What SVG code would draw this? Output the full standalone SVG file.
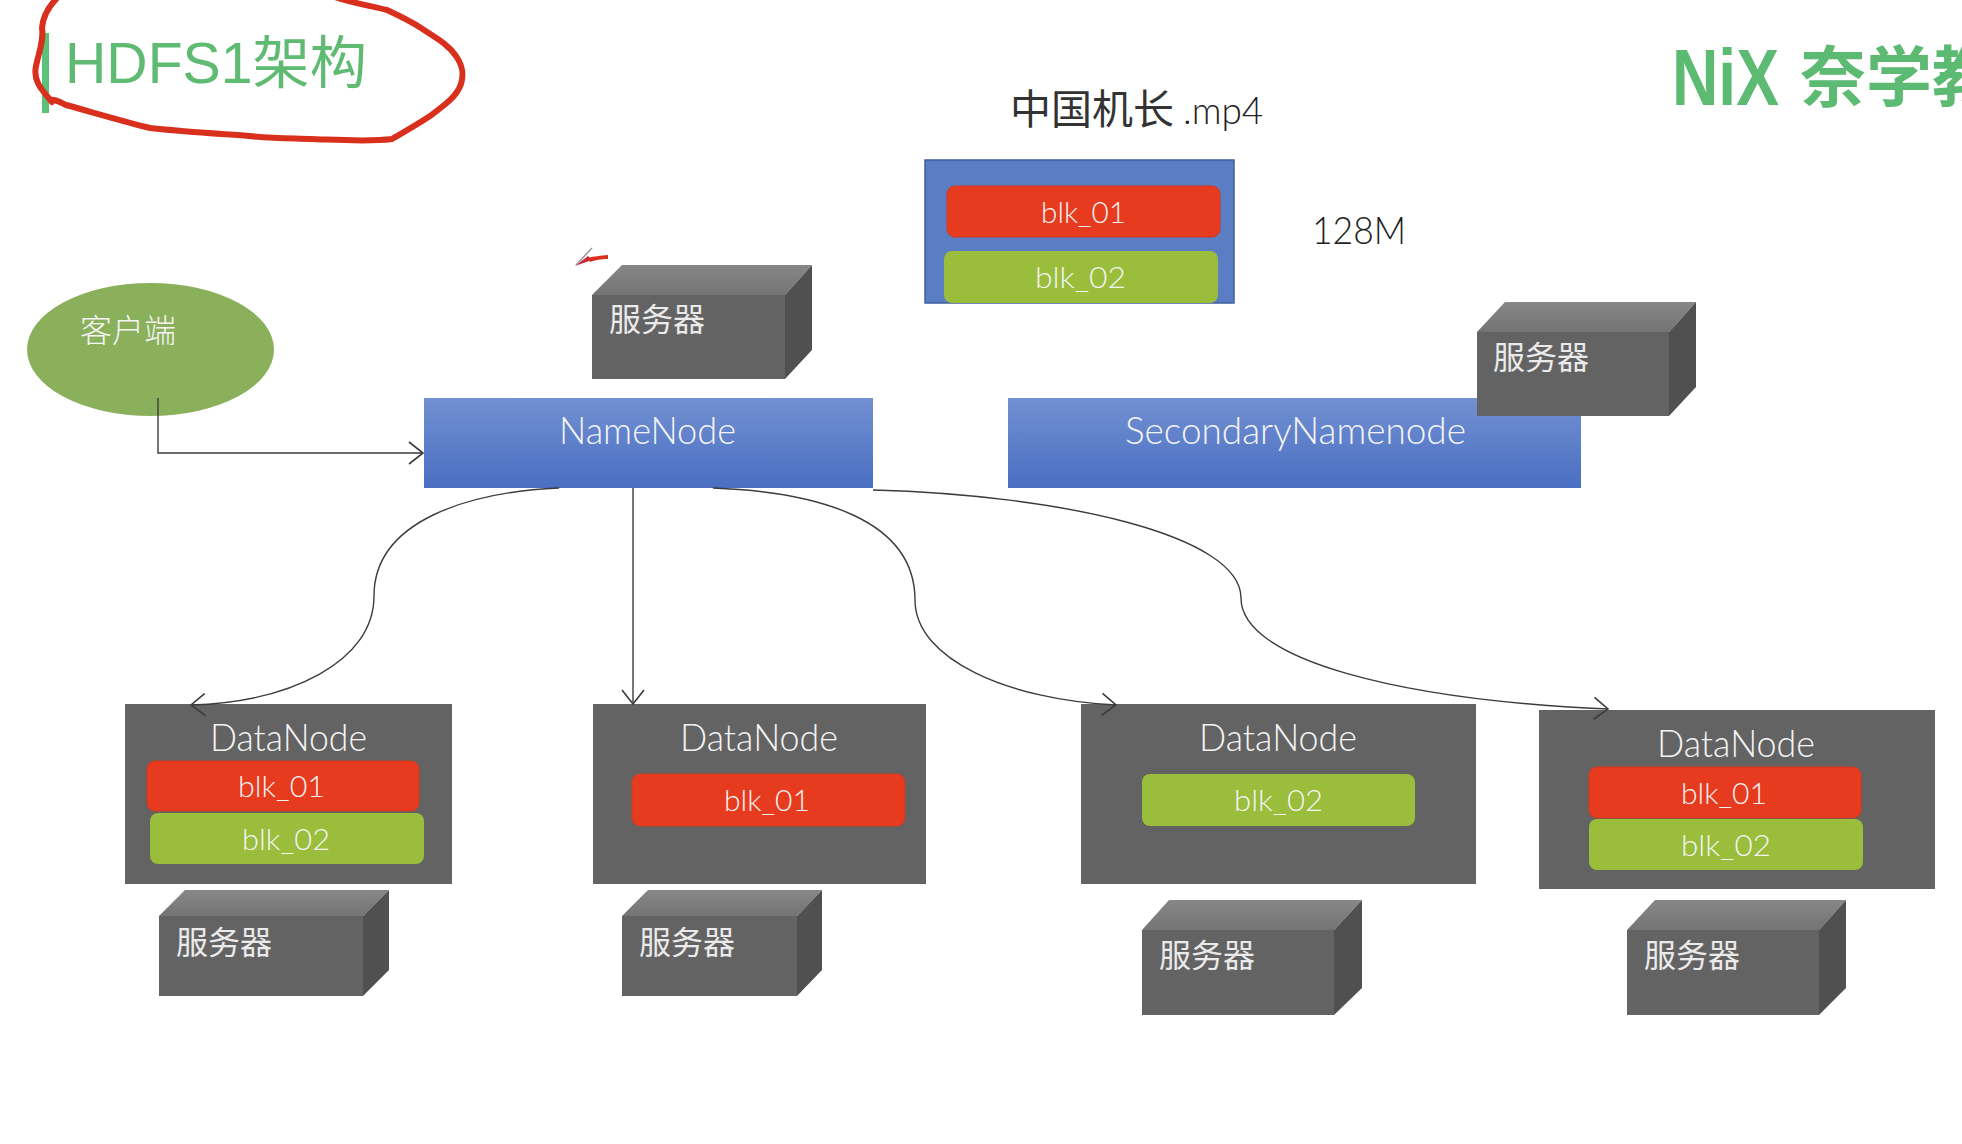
<svg xmlns="http://www.w3.org/2000/svg" width="1962" height="1144" viewBox="0 0 1962 1144">
<style>
text{font-family:"Lato","Liberation Sans","Noto Sans CJK SC",sans-serif}
.cjk{font-family:"Liberation Sans","Noto Sans CJK SC",sans-serif}
.w{fill:#f4f4f4;font-weight:300}
.lbl{font-size:38px}
.blk{font-size:29px}
.sv{font-size:32px;fill:#eaeaea}
.front{fill:#636363}
.top{fill:url(#gTop)}
.side{fill:#505050}
.dn{fill:#636363}
.red{fill:#e63b1f;stroke:#d23a22;stroke-width:1}
.grn{fill:#9abd3c}
.nn{fill:url(#gBlue)}
.c{fill:none;stroke:#3c3c3c;stroke-width:1.4;marker-end:url(#arr)}
</style>
<defs>
<linearGradient id="gBlue" x1="0" y1="0" x2="0" y2="1"><stop offset="0" stop-color="#7290d2"/><stop offset="1" stop-color="#4a6fc2"/></linearGradient>
<linearGradient id="gTop" x1="0" y1="0" x2="0" y2="1"><stop offset="0" stop-color="#878787"/><stop offset="1" stop-color="#747474"/></linearGradient>
<marker id="arr" viewBox="0 0 16 24" refX="15" refY="12" markerWidth="16" markerHeight="24" markerUnits="userSpaceOnUse" orient="auto"><path d="M1,1 L15,12 L1,23" fill="none" stroke="#3c3c3c" stroke-width="1.6"/></marker>
</defs>
<rect width="1962" height="1144" fill="#fff"/>

<g id="title">
<rect x="42" y="33" width="7" height="80" fill="#5cc27a"/>
<text class="cjk" x="65" y="83" font-size="57" fill="#5fba72" textLength="302" lengthAdjust="spacingAndGlyphs">HDFS1架构</text>
</g>
<path id="ink-circle" d="M52,102 C40,88 33,80 36,66 C39,52 44,40 42,28 C43,14 50,5 58,-3 M335,-3 C352,3 372,6 387,10 C402,17 412,22 421,28 C436,38 448,44 456,56 C463,66 464,74 461,84 C457,96 446,104 430,116 C418,124 404,132 392,139 C370,142 340,140 310,139 C280,138 265,138 238,135 C205,133 178,131 150,128 C122,121 95,113 66,105 C58,101 54,99 50,100" fill="none" stroke="#d8301c" stroke-width="6" stroke-linecap="round"/>
<g id="pen-cursor">
<path d="M575,266 L588,256 L592,260 Z" fill="#c8283c"/>
<path d="M588,258 C594,256 600,256 608,255 L608,259 C600,259 596,260 590,262 Z" fill="#d8301c"/>
<path d="M576,265 L592,248" fill="none" stroke="#999" stroke-width="1.5"/>
</g>

<g id="logo" fill="#5cba72">
<text class="cjk" x="1672" y="105" font-size="80" font-weight="700" textLength="107" lengthAdjust="spacingAndGlyphs">NiX</text>
<text class="cjk" x="1800" y="101" font-size="66" font-weight="700">奈学教</text>
</g>

<g id="file">
<text class="cjk" x="1010" y="124" font-size="41" fill="#333">中国机长<tspan dx="9" font-family="Lato, 'Liberation Sans', sans-serif" font-weight="300" font-size="37" fill="#222">.mp4</tspan></text>
<rect x="925" y="160" width="309" height="143" fill="#5a7dc4" stroke="#3f5f9f" stroke-width="1.5"/>
<rect class="red" x="947" y="186" width="273" height="51" rx="8"/>
<text class="w blk" x="1041" y="223" textLength="85" lengthAdjust="spacingAndGlyphs">blk_01</text>
<rect class="grn" x="944" y="251" width="274" height="52" rx="8"/>
<text class="w blk" x="1035" y="288" textLength="91" lengthAdjust="spacingAndGlyphs">blk_02</text>
</g>
<text id="size" x="1312" y="244" font-size="38" fill="#222" font-weight="300" textLength="94" lengthAdjust="spacingAndGlyphs">128M</text>

<g id="client">
<ellipse cx="150.500" cy="349.500" rx="123.500" ry="66.500" fill="#8bb05c"/>
<text class="cjk w" x="80" y="342" font-size="32">客户端</text>
</g>

<g id="namenode">
<rect class="nn" x="424" y="398" width="449" height="90"/>
<text class="w lbl" x="559" y="444" textLength="177" lengthAdjust="spacingAndGlyphs">NameNode</text>
</g>
<g id="secondary-namenode">
<rect class="nn" x="1008" y="398" width="573" height="90"/>
<text class="w lbl" x="1125" y="444" textLength="341" lengthAdjust="spacingAndGlyphs">SecondaryNamenode</text>
</g>

<g id="server-nn">
<polygon class="top" points="592,295 622,265 812,265 785,295"/>
<polygon class="side" points="785,295 812,265 812,350 785,379"/>
<rect class="front" x="592" y="295" width="193" height="84"/>
<text class="cjk sv" x="609" y="331">服务器</text>
</g>
<g id="server-snn">
<polygon class="top" points="1477,332 1505,302 1696,302 1669,332"/>
<polygon class="side" points="1669,332 1696,302 1696,387 1669,416"/>
<rect class="front" x="1477" y="332" width="192" height="84"/>
<text class="cjk sv" x="1493" y="369">服务器</text>
</g>

<g id="datanode-1">
<rect class="dn" x="125" y="704" width="327" height="180"/>
<text class="w lbl" x="210" y="751" textLength="157" lengthAdjust="spacingAndGlyphs">DataNode</text>
<rect class="red" x="147" y="761" width="272" height="50" rx="8"/>
<text class="w blk" x="238" y="797" textLength="87" lengthAdjust="spacingAndGlyphs">blk_01</text>
<rect class="grn" x="150" y="813" width="274" height="51" rx="8"/>
<text class="w blk" x="242" y="850" textLength="88" lengthAdjust="spacingAndGlyphs">blk_02</text>
</g>
<g id="datanode-2">
<rect class="dn" x="593" y="704" width="333" height="180"/>
<text class="w lbl" x="680" y="751" textLength="158" lengthAdjust="spacingAndGlyphs">DataNode</text>
<rect class="red" x="632" y="774" width="273" height="52" rx="8"/>
<text class="w blk" x="724" y="811" textLength="86" lengthAdjust="spacingAndGlyphs">blk_01</text>
</g>
<g id="datanode-3">
<rect class="dn" x="1081" y="704" width="395" height="180"/>
<text class="w lbl" x="1199" y="751" textLength="158" lengthAdjust="spacingAndGlyphs">DataNode</text>
<rect class="grn" x="1142" y="774" width="273" height="52" rx="8"/>
<text class="w blk" x="1234" y="811" textLength="89" lengthAdjust="spacingAndGlyphs">blk_02</text>
</g>
<g id="datanode-4">
<rect class="dn" x="1539" y="710" width="396" height="179"/>
<text class="w lbl" x="1657" y="757" textLength="158" lengthAdjust="spacingAndGlyphs">DataNode</text>
<rect class="red" x="1589" y="767" width="272" height="51" rx="8"/>
<text class="w blk" x="1681" y="804" textLength="86" lengthAdjust="spacingAndGlyphs">blk_01</text>
<rect class="grn" x="1589" y="819" width="274" height="51" rx="8"/>
<text class="w blk" x="1681" y="856" textLength="90" lengthAdjust="spacingAndGlyphs">blk_02</text>
</g>

<g id="server-1">
<polygon class="top" points="159,916 185,890 389,890 363,916"/>
<polygon class="side" points="363,916 389,890 389,970 363,996"/>
<rect class="front" x="159" y="916" width="204" height="80"/>
<text class="cjk sv" x="176" y="954">服务器</text>
</g>
<g id="server-2">
<polygon class="top" points="622,916 648,890 822,890 797,916"/>
<polygon class="side" points="797,916 822,890 822,970 797,996"/>
<rect class="front" x="622" y="916" width="175" height="80"/>
<text class="cjk sv" x="639" y="954">服务器</text>
</g>
<g id="server-3">
<polygon class="top" points="1142,930 1169,900 1362,900 1334,930"/>
<polygon class="side" points="1334,930 1362,900 1362,988 1334,1015"/>
<rect class="front" x="1142" y="930" width="192" height="85"/>
<text class="cjk sv" x="1159" y="967">服务器</text>
</g>
<g id="server-4">
<polygon class="top" points="1627,930 1655,900 1846,900 1819,930"/>
<polygon class="side" points="1819,930 1846,900 1846,988 1819,1015"/>
<rect class="front" x="1627" y="930" width="192" height="85"/>
<text class="cjk sv" x="1644" y="967">服务器</text>
</g>

<g id="connectors">
<path class="c" d="M158,398 L158,453 L423,453"/>
<path class="c" d="M559,488 C470,492 374,520 374,596 C374,662 290,702 191,705"/>
<path class="c" d="M633,488 L633,704"/>
<path class="c" d="M713,488 C820,492 915,520 915,600 C915,660 1010,700 1116,705"/>
<path class="c" d="M873,490 C1060,495 1241,535 1241,598 C1241,660 1400,700 1608,709"/>
</g>
</svg>
